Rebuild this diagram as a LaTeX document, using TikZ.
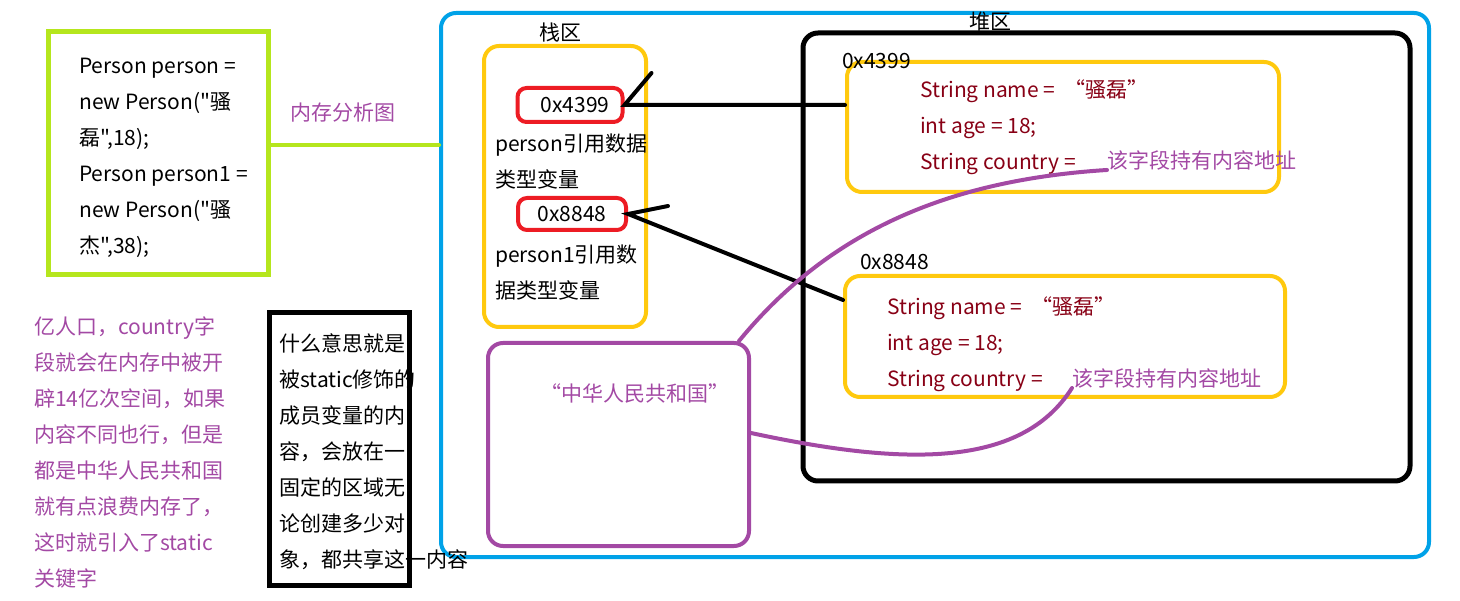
\documentclass[tikz,border=0pt]{standalone}
\usepackage{fontspec}
\setmainfont[Ligatures=TeXOff]{Noto Sans CJK SC}
\usetikzlibrary{arrows,positioning}
\definecolor{codegreen}{HTML}{B5E61D}
\definecolor{memblue}{HTML}{00A2E8}
\definecolor{areayellow}{HTML}{FFC90E}
\definecolor{refred}{HTML}{ED1C24}
\definecolor{notepurple}{HTML}{A349A4}
\definecolor{fielddark}{HTML}{880015}
\tikzset{font=\fontsize{21}{36}\selectfont}
\tikzset{every node/.append style={inner sep=0pt}}

\begin{document}
\begin{tikzpicture}[x=1pt,y=-1pt,
  ybox/.style={draw=areayellow, line width=4pt, rounded corners=15pt},
  refbox/.style={draw=refred, line width=4pt, rounded corners=9pt},
  link/.style={line width=4pt, line cap=round},
  ptr/.style={draw=notepurple, line width=4pt, line cap=round},
  txt/.style={anchor=west, align=left}]
  \useasboundingbox (0,0) rectangle (1460,601);

  % code
  \node[draw=codegreen, line width=5pt, minimum width=220pt, minimum height=243pt] (code) at (158,153.5) {};
  \node[txt] (codetxt) at (79,158) {Person person =\\new Person("骚\\磊",18);\\Person person1 =\\new Person("骚\\杰",38);};
  \node[text=notepurple] (memlbl) at (343,113) {内存分析图};

  % memory
  \node[draw=memblue, line width=4pt, rounded corners=15pt, minimum width=988pt, minimum height=544pt] (mem) at (935,285) {};
  \draw[codegreen, line width=4pt, line cap=round] (code.east |- 0,145) -- (mem.west |- 0,145);

  % stack
  \node (stacklbl) at (560,33) {栈区};
  \node[ybox, minimum width=162pt, minimum height=281pt] (stack) at (565,186.5) {};
  \node[refbox, minimum width=105pt, minimum height=34pt] (ref1) at (570,105) {\hspace{10pt}0x4399};
  \node[txt] (ref1txt) at (495,161.5) {person引用数据\\类型变量};
  \node[refbox, minimum width=108pt, minimum height=32pt] (ref2) at (572,214) {0x8848};
  \node[txt] (ref2txt) at (495,272.5) {person1引用数\\据类型变量};

  % heap
  \node (heaplbl) at (990,22) {堆区};
  \node[draw, line width=5pt, rounded corners=15pt, minimum width=607pt, minimum height=448pt] (heap) at (1106.5,257) {};

  \node[ybox, minimum width=432pt, minimum height=130pt] (obj1) at (1063,127) {};
  \node[anchor=west] (addr1) at (842,61) {0x4399};
  \node[txt, text=fielddark] (obj1txt) at (920,127) {String name =\ \ “骚磊”\\int age = 18;\\String country =};
  \node[anchor=west, text=notepurple] (note1) at (1107,160) {该字段持有内容地址};

  \node[ybox, minimum width=440pt, minimum height=121pt] (obj2) at (1065,336.5) {};
  \node[anchor=west] (addr2) at (860,262) {0x8848};
  \node[txt, text=fielddark] (obj2txt) at (887,344) {String name =\ \ “骚磊”\\int age = 18;\\String country =};
  \node[anchor=west, text=notepurple] (note2) at (1072,378) {该字段持有内容地址};

  % static
  \node[draw=notepurple, line width=4pt, rounded corners=15pt, minimum width=261pt, minimum height=203pt] (pbox) at (618.5,444.5) {};
  \node[text=notepurple] (ptxt) at (635,394) {“中华人民共和国”};

  \draw[link] (obj1.west |- ref1) -- (ref1.east) -- ++(27,-32);
  \draw[link] (obj2.west |- 0,300) -- (ref2.east) -- ++(40,-8);

  \draw[ptr] (note1.south west) .. controls (950,180) and (830,230) .. ([xshift=-12pt]pbox.north east);
  \draw[ptr] (pbox.east |- 0,433) .. controls (900,465) and (1020,470) .. (note2.south west);

  % notes
  \node[txt, text=notepurple] (why) at (34,452.5) {亿人口，country字\\段就会在内存中被开\\辟14亿次空间，如果\\内容不同也行，但是\\都是中华人民共和国\\就有点浪费内存了，\\这时就引入了static\\关键字};
  \node[draw, line width=5pt, minimum width=140pt, minimum height=272pt] (sbox) at (339,449) {};
  \node[txt] (stxt) at (279,451.5) {什么意思就是\\被static修饰的\\成员变量的内\\容，会放在一\\固定的区域无\\论创建多少对\\象，都共享这一内容};
\end{tikzpicture}
\end{document}
